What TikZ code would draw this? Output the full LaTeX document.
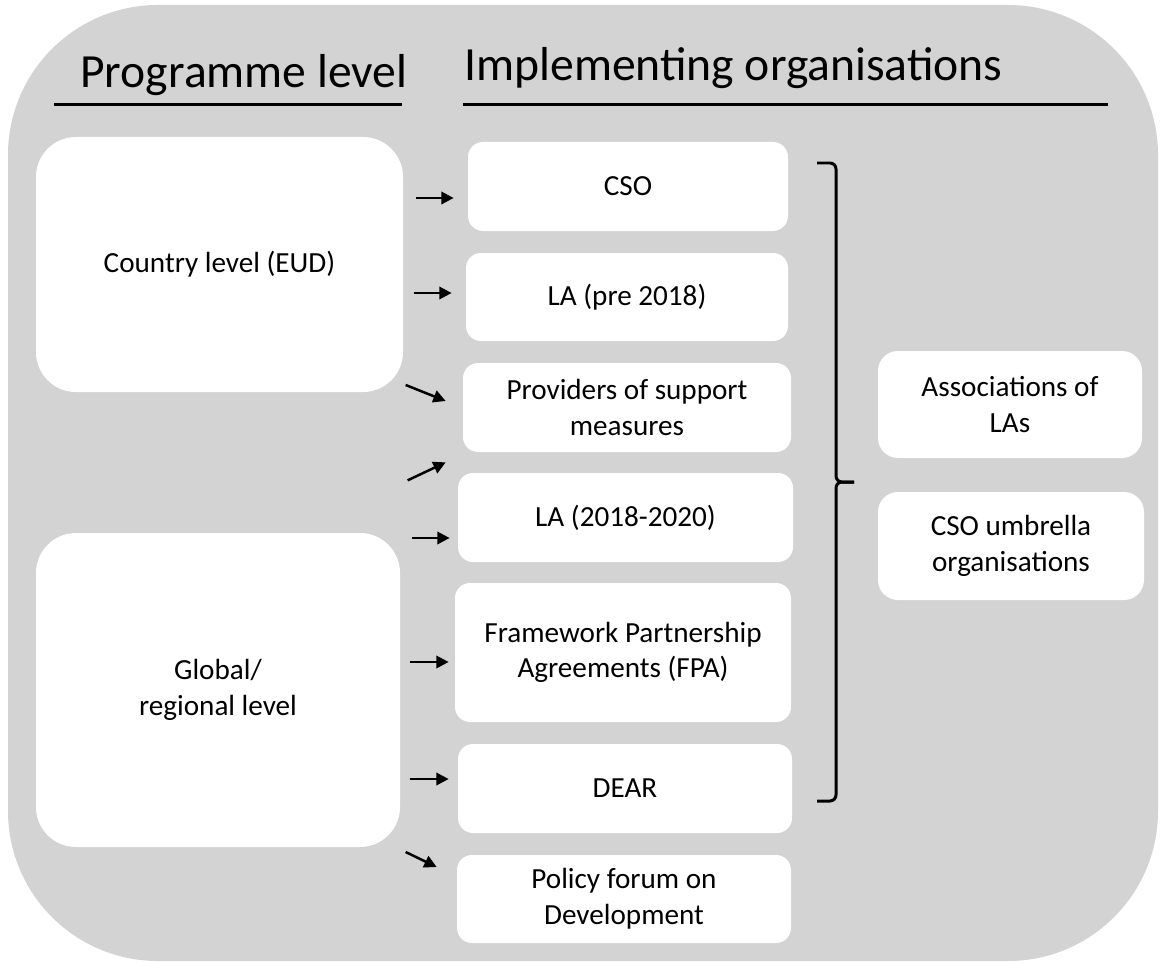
\documentclass[tikz,border=0pt]{standalone}
\usepackage{fontspec}
\setmainfont{Carlito}
\usepackage{xcolor}
\usepackage{tikz}
\usetikzlibrary{positioning, arrows.meta, calc}

\definecolor{panelgray}{RGB}{211,211,211}
\newcommand{\px}{0.02cm}

\begin{document}
\begin{tikzpicture}[
    x=0.02cm, y=-0.02cm,
    font=\fontsize{16.6}{20.3}\selectfont,
    box/.style={rectangle, fill=white, rounded corners=0.3cm, align=center, inner sep=0pt},
    bigbox/.style={box, rounded corners=0.8cm},
    sidebox/.style={box, rounded corners=0.4cm},
    heading/.style={font=\fontsize{27.1}{32}\selectfont, anchor=base west, inner sep=0pt},
    rule/.style={line width=0.06cm},
    arrow/.style={-{Triangle[length=7pt, width=7pt]}, line width=0.05cm},
    bracket/.style={line width=0.06cm, rounded corners=0.12cm}
]
\useasboundingbox (0,0) rectangle (1160,963);
\fill[panelgray, rounded corners=3cm] (8,5) rectangle (1158,961);

% headings
\node[heading] (proglevel) at (80,88) {Programme level};
\draw[rule] (54,105) -- (402,105);
\node[heading] (implorg) at (464,81) {Implementing organisations};
\draw[rule] (463,105) -- (1108,105);

% programme level
\node[bigbox, minimum width=367*\px, minimum height=255*\px] (country) at (219.5,264.5) {Country level (EUD)};
\node[bigbox, minimum width=364*\px, minimum height=314*\px] (global) at (218,690) {Global/\\regional level};

% implementing organisations
\node[box, minimum width=320*\px, minimum height=89*\px] (cso) at (628,186.5) {CSO};
\node[box, minimum width=322*\px, minimum height=88*\px] (lapre) at (627,297) {LA (pre 2018)};
\node[box, minimum width=328*\px, minimum height=89*\px] (prov) at (627,407.5) {Providers of support\\measures};
\node[box, minimum width=335*\px, minimum height=89*\px] (la18) at (625.5,517.5) {LA (2018-2020)};
\node[box, minimum width=336*\px, minimum height=139*\px] (fpa) at (623,652.5) {Framework Partnership\\Agreements (FPA)};
\node[box, minimum width=334*\px, minimum height=89*\px] (dear) at (625,788.5) {DEAR};
\node[box, minimum width=334*\px, minimum height=88*\px] (policy) at (624,899) {Policy forum on\\Development};

\node[sidebox, minimum width=264*\px, minimum height=107*\px] (assoc) at (1010,404.5) {Associations of\\LAs};
\node[sidebox, minimum width=266*\px, minimum height=108*\px] (umbrella) at (1011,546) {CSO umbrella\\organisations};

% bracket grouping the implementing organisations
\draw[bracket] (817,163) -| (836,482) -- (854,482);
\draw[bracket] (854,482) -| (836,801) -- (817,801);

% arrows into the boxes
\draw[arrow] ([shift={(-52,11.5)}]cso.west) -- ([shift={(-14,11.5)}]cso.west);
\draw[arrow] ([shift={(-52,-4)}]lapre.west) -- ([shift={(-14,-4)}]lapre.west);
\draw[arrow] ([shift={(-57,-22.5)}]prov.west) -- ([shift={(-17,-6.5)}]prov.west);
\draw[arrow] ([shift={(-55,28)}]prov.south west) -- ([shift={(-17,10)}]prov.south west);
\draw[arrow] ([shift={(-46,20.5)}]la18.west) -- ([shift={(-8,20.5)}]la18.west);
\draw[arrow] ([shift={(-45,9.5)}]fpa.west) -- ([shift={(-6,9.5)}]fpa.west);
\draw[arrow] ([shift={(-48,-9.5)}]dear.west) -- ([shift={(-9,-9.5)}]dear.west);
\draw[arrow] ([shift={(-51,-47)}]policy.west) -- ([shift={(-20,-32)}]policy.west);
\end{tikzpicture}
\end{document}
